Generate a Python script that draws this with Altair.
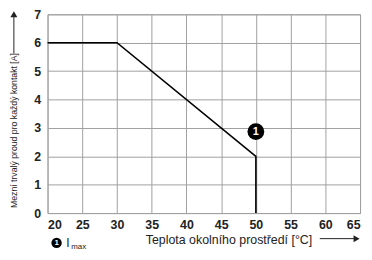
import altair as alt
import pandas as pd

# derating curve
temp = [20, 30, 50, 50]
current = [6, 6, 2, 0]

# marker "1" at I_max
marker_x = [50]
marker_y = [2.87]
marker_label = ["1"]

x_ticks = [20, 25, 30, 35, 40, 45, 50, 55, 60, 65]
y_ticks = [0, 1, 2, 3, 4, 5, 6, 7]

x_title = "Teplota okolního prostředí [°C]"
y_title = "Mezní trvalý proud pro každý kontakt [A]"

curve = pd.DataFrame({"t": temp, "i": current, "o": list(range(len(temp)))})
mk = pd.DataFrame({"t": marker_x, "i": marker_y, "l": marker_label})

xs = alt.Scale(domain=[20, 65], nice=False)
ys = alt.Scale(domain=[0, 7], nice=False)

font = "Liberation Sans"

xaxis = alt.Axis(
    values=x_ticks, title=x_title, tickSize=0, labelPadding=6, labelOverlap=False,
    labelFont=font, labelFontSize=12.5, labelFontWeight="bold", labelColor="#222",
    titleFont=font, titleFontSize=12.5, titleFontWeight="normal", titleColor="#222",
    titleX=183, titleY=27, titleBaseline="middle", titleAnchor="middle",
    grid=True, gridColor="#a0a0a0", gridWidth=1, domain=False)
yaxis = alt.Axis(
    values=y_ticks, title=y_title, tickSize=0, labelPadding=7, labelOverlap=False,
    labelFont=font, labelFontSize=12.5, labelFontWeight="bold", labelColor="#222",
    titleFont=font, titleFontSize=8.8, titleFontWeight="normal", titleColor="#222",
    titleX=-34, titleY=117, titleAngle=-90, titleBaseline="middle", titleAnchor="middle",
    grid=True, gridColor="#a0a0a0", gridWidth=1, domain=False)


def X(f="t:Q"):
    return alt.X(f, scale=xs, axis=xaxis)


def Y(f="i:Q"):
    return alt.Y(f, scale=ys, axis=yaxis)


line = alt.Chart(curve).mark_line(color="black", strokeWidth=1.6, clip=False).encode(
    x=X(), y=Y(), order="o:Q")

mpt = alt.Chart(mk).mark_point(filled=True, color="black", size=290, opacity=1, shape="circle").encode(
    x=X(), y=Y())
mtx = alt.Chart(mk).mark_text(color="white", fontSize=11, font=font, fontWeight="bold", dy=0.5).encode(
    x=X(), y=Y(), text="l:N")

# legend (below the plot, data coords outside domain)
leg = pd.DataFrame({"t": [21.3], "i": [-1.05], "l": ["1"]})
lpt = alt.Chart(leg).mark_point(filled=True, color="black", size=110, opacity=1, clip=False).encode(
    x=X(), y=Y())
ltx = alt.Chart(leg).mark_text(color="white", fontSize=8, font=font, fontWeight="bold", clip=False, dy=0.5).encode(
    x=X(), y=Y(), text="l:N")
lI = alt.Chart(pd.DataFrame({"t": [22.7], "i": [-1.05], "l": ["I"]})).mark_text(
    align="left", baseline="middle", fontSize=12, font=font, color="#222", clip=False).encode(
    x=X(), y=Y(), text="l:N")
lmax = alt.Chart(pd.DataFrame({"t": [23.4], "i": [-1.2], "l": ["max"]})).mark_text(
    align="left", baseline="middle", fontSize=8, font=font, color="#222", clip=False).encode(
    x=X(), y=Y(), text="l:N")

# axis-title arrows
xa = pd.DataFrame({"t": [59.2], "t2": [64.2], "i": [-0.9]})
xarrow = alt.Chart(xa).mark_rule(color="#222", strokeWidth=1, clip=False).encode(
    x=X(), x2="t2:Q", y=Y())
xhead = alt.Chart(pd.DataFrame({"t": [64.5], "i": [-0.9]})).mark_point(
    shape="triangle-right", filled=True, color="#222", size=50, opacity=1, clip=False).encode(
    x=X(), y=Y())
ya = pd.DataFrame({"t": [15.15], "i": [5.62], "i2": [6.95]})
yarrow = alt.Chart(ya).mark_rule(color="#222", strokeWidth=1, clip=False).encode(
    x=X(), y=Y(), y2="i2:Q")
yhead = alt.Chart(pd.DataFrame({"t": [15.15], "i": [7.0]})).mark_point(
    shape="triangle-up", filled=True, color="#222", size=50, opacity=1, clip=False).encode(
    x=X(), y=Y())

chart = alt.layer(line, mpt, mtx, lpt, ltx, lI, lmax, xarrow, xhead, yarrow, yhead).properties(
    width=316, height=201,
    autosize=alt.AutoSizeParams(type="none"),
    padding={"left": 40, "top": 5, "right": 4, "bottom": 40},
    background="white",
).configure_view(stroke="#a0a0a0", strokeWidth=1)

chart.save("out.html", embed_options={"renderer": "svg", "actions": False})
